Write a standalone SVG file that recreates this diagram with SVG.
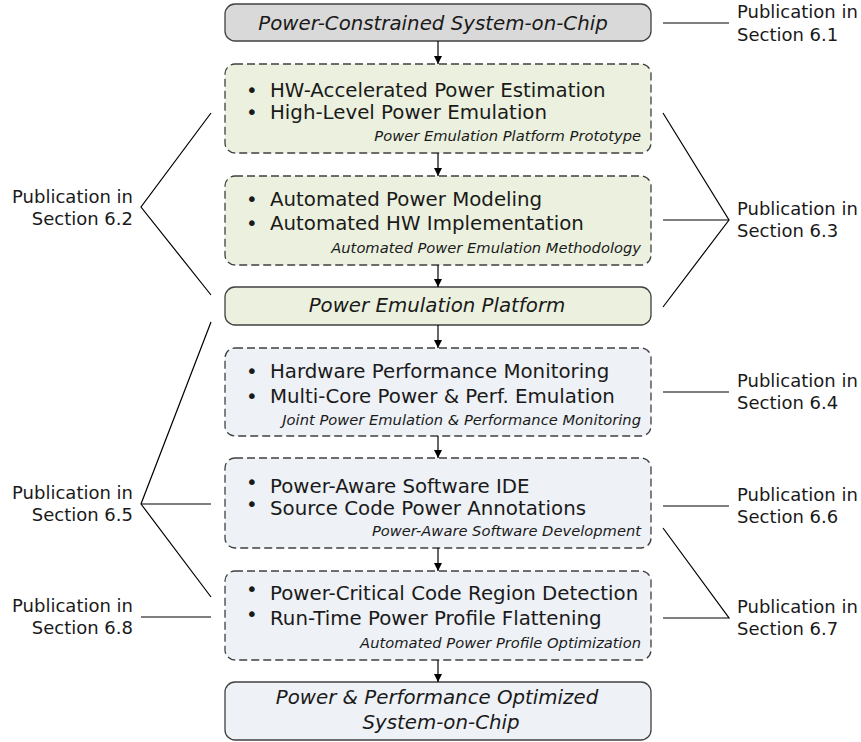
<svg xmlns="http://www.w3.org/2000/svg" width="861" height="742" viewBox="0 0 861 742">
  <style>
    .box { stroke: #404040; stroke-width: 1.3; }
    .dash { stroke-dasharray: 8 4; }
    .gray { fill: #d9d9d9; }
    .green { fill: #ebf1de; }
    .blue { fill: #eef1f6; }
    text { font-family: "DejaVu Sans", Verdana, sans-serif; fill: #1a1a1a; }
    .title { font-size: 19.8px; font-style: italic; text-anchor: middle; }
    .item { font-size: 19.8px; }
    .sub { font-size: 14.7px; font-style: italic; text-anchor: end; }
    .lbl { font-size: 18px; }
    .lblL { font-size: 18px; text-anchor: end; }
    .link { stroke: #000; stroke-width: 1.2; fill: none; }
    .flow { stroke: #000; stroke-width: 1.2; fill: none; marker-end: url(#arrow); }
  </style>
  <defs>
    <marker id="arrow" viewBox="0 0 10 10" refX="10" refY="5" markerWidth="8" markerHeight="8" markerUnits="userSpaceOnUse" orient="auto">
      <path d="M0,0 L10,5 L0,10 z" fill="#000"/>
    </marker>
  </defs>

  <!-- flow nodes -->
  <g id="soc-constrained">
    <rect class="box gray" x="225" y="4" width="426" height="37" rx="10"/>
    <text class="title" x="433" y="30">Power-Constrained System-on-Chip</text>
  </g>

  <g id="power-estimation">
    <rect class="box dash green" x="225" y="64" width="426" height="89" rx="10"/>
    <text class="item" x="246" y="97">•</text>
    <text class="item" x="270" y="97">HW-Accelerated Power Estimation</text>
    <text class="item" x="246" y="119">•</text>
    <text class="item" x="270" y="119">High-Level Power Emulation</text>
    <text class="sub" x="641" y="141">Power Emulation Platform Prototype</text>
  </g>

  <g id="power-modeling">
    <rect class="box dash green" x="225" y="176" width="426" height="89" rx="10"/>
    <text class="item" x="246" y="206">•</text>
    <text class="item" x="270" y="206">Automated Power Modeling</text>
    <text class="item" x="246" y="230">•</text>
    <text class="item" x="270" y="230">Automated HW Implementation</text>
    <text class="sub" x="641" y="253">Automated Power Emulation Methodology</text>
  </g>

  <g id="emulation-platform">
    <rect class="box green" x="225" y="287" width="426" height="38" rx="10"/>
    <text class="title" x="437" y="312">Power Emulation Platform</text>
  </g>

  <g id="performance-monitoring">
    <rect class="box dash blue" x="225" y="348" width="426" height="88" rx="10"/>
    <text class="item" x="246" y="378">•</text>
    <text class="item" x="270" y="378">Hardware Performance Monitoring</text>
    <text class="item" x="246" y="403">•</text>
    <text class="item" x="270" y="403">Multi-Core Power &amp; Perf. Emulation</text>
    <text class="sub" x="641" y="425">Joint Power Emulation &amp; Performance Monitoring</text>
  </g>

  <g id="software-development">
    <rect class="box dash blue" x="225" y="458" width="426" height="90" rx="10"/>
    <text class="item" x="246" y="489">•</text>
    <text class="item" x="270" y="493">Power-Aware Software IDE</text>
    <text class="item" x="246" y="511">•</text>
    <text class="item" x="270" y="515">Source Code Power Annotations</text>
    <text class="sub" x="641" y="536">Power-Aware Software Development</text>
  </g>

  <g id="profile-optimization">
    <rect class="box dash blue" x="225" y="571" width="426" height="89" rx="10"/>
    <text class="item" x="246" y="596">•</text>
    <text class="item" x="270" y="600">Power-Critical Code Region Detection</text>
    <text class="item" x="246" y="621">•</text>
    <text class="item" x="270" y="625">Run-Time Power Profile Flattening</text>
    <text class="sub" x="641" y="648">Automated Power Profile Optimization</text>
  </g>

  <g id="soc-optimized">
    <rect class="box blue" x="225" y="682" width="426" height="58" rx="10"/>
    <text class="title" x="437" y="704">Power &amp; Performance Optimized</text>
    <text class="title" x="441" y="729">System-on-Chip</text>
  </g>

  <!-- publication labels -->
  <g id="pub-6-1">
    <text class="lbl" x="737" y="18">Publication in</text>
    <text class="lbl" x="737" y="41">Section 6.1</text>
  </g>
  <g id="pub-6-2">
    <text class="lblL" x="133" y="203">Publication in</text>
    <text class="lblL" x="133" y="225">Section 6.2</text>
  </g>
  <g id="pub-6-3">
    <text class="lbl" x="737" y="215">Publication in</text>
    <text class="lbl" x="737" y="237">Section 6.3</text>
  </g>
  <g id="pub-6-4">
    <text class="lbl" x="737" y="387">Publication in</text>
    <text class="lbl" x="737" y="409">Section 6.4</text>
  </g>
  <g id="pub-6-5">
    <text class="lblL" x="133" y="499">Publication in</text>
    <text class="lblL" x="133" y="521">Section 6.5</text>
  </g>
  <g id="pub-6-6">
    <text class="lbl" x="737" y="501">Publication in</text>
    <text class="lbl" x="737" y="523">Section 6.6</text>
  </g>
  <g id="pub-6-7">
    <text class="lbl" x="737" y="613">Publication in</text>
    <text class="lbl" x="737" y="635">Section 6.7</text>
  </g>
  <g id="pub-6-8">
    <text class="lblL" x="133" y="612">Publication in</text>
    <text class="lblL" x="133" y="634">Section 6.8</text>
  </g>

  <!-- connectors -->
  <g id="connectors">
    <line class="flow" x1="438" y1="41" x2="438" y2="64"/>
    <line class="flow" x1="438" y1="153" x2="438" y2="176"/>
    <line class="flow" x1="438" y1="265" x2="438" y2="287"/>
    <line class="flow" x1="438" y1="325" x2="438" y2="348"/>
    <line class="flow" x1="438" y1="436" x2="438" y2="458"/>
    <line class="flow" x1="438" y1="548" x2="438" y2="571"/>
    <line class="flow" x1="438" y1="660" x2="438" y2="682"/>

    <line class="link" x1="663" y1="23" x2="729" y2="23"/>
    <polyline class="link" points="211,113 141,207 211,295"/>
    <polyline class="link" points="663,113 729,220 663,307"/>
    <line class="link" x1="663" y1="220" x2="729" y2="220"/>
    <line class="link" x1="663" y1="392" x2="729" y2="392"/>
    <polyline class="link" points="211,322 141,504 211,597"/>
    <line class="link" x1="141" y1="504" x2="211" y2="504"/>
    <line class="link" x1="663" y1="506" x2="729" y2="506"/>
    <polyline class="link" points="663,528 729,618 663,618"/>
    <line class="link" x1="141" y1="617" x2="211" y2="617"/>
  </g>
</svg>
